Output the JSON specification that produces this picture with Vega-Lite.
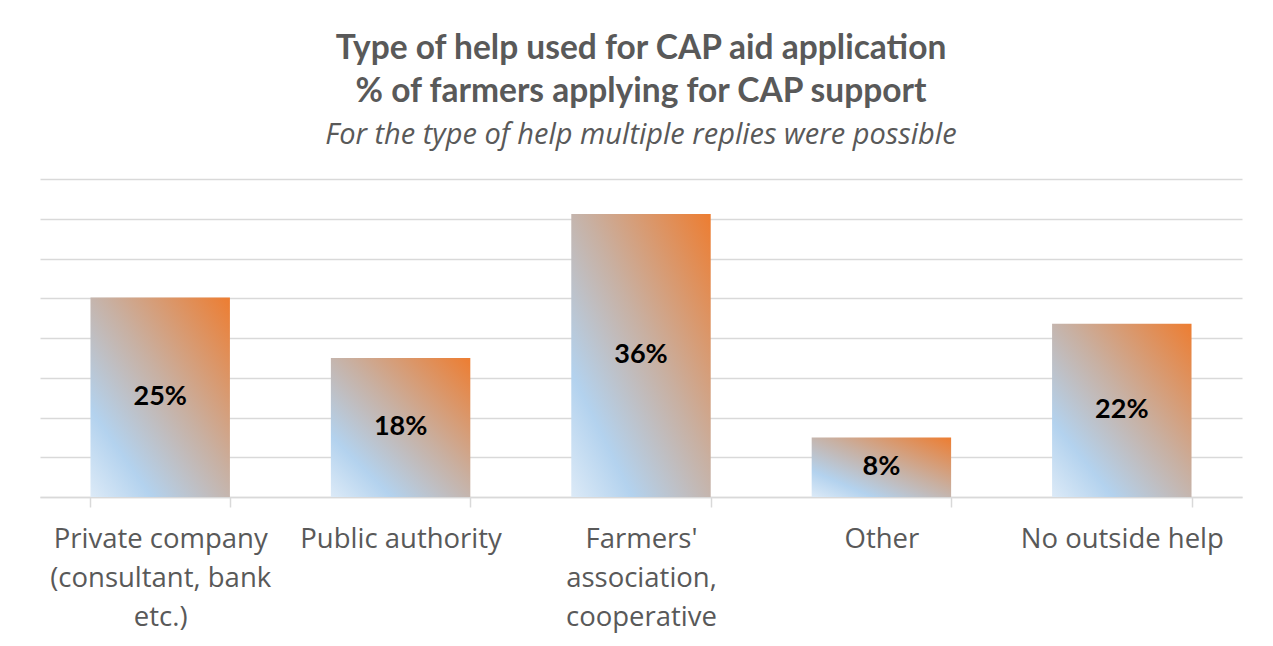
{
  "$schema": "https://vega.github.io/schema/vega-lite/v6.json",
  "width": 1202,
  "height": 318,
  "padding": {"left": 40, "right": 31, "top": 31, "bottom": 12},
  "background": "white",
  "title": {
    "text": ["Type of help used for CAP aid application", "% of farmers applying for CAP support"],
    "subtitle": "For the type of help multiple replies were possible",
    "anchor": "middle",
    "font": "Lato",
    "fontSize": 33.5,
    "fontWeight": "bold",
    "color": "#595959",
    "lineHeight": 43,
    "subtitleFont": "Open Sans",
    "subtitleFontSize": 29,
    "subtitleFontStyle": "italic",
    "subtitleColor": "#595959",
    "subtitlePadding": 12,
    "offset": 28
  },
  "data": {
    "values": [
      {"help": "Private company|(consultant, bank|etc.)", "share": 0.251},
      {"help": "Public authority", "share": 0.175},
      {"help": "Farmers'|association,|cooperative", "share": 0.356},
      {"help": "Other", "share": 0.075},
      {"help": "No outside help", "share": 0.218}
    ]
  },
  "encoding": {
    "x": {
      "field": "help",
      "type": "nominal",
      "sort": null,
      "scale": {"paddingInner": 0.42, "paddingOuter": 0.21},
      "axis": {
        "title": null,
        "labelAngle": 0,
        "labelExpr": "split(datum.label, '|')",
        "labelFont": "Open Sans",
        "labelFontSize": 27.5,
        "labelColor": "#595959",
        "labelLineHeight": 39,
        "labelPadding": 18,
        "labelLimit": 0,
        "domainColor": "#D9D9D9",
        "domainWidth": 1.5,
        "tickBand": "extent",
        "tickColor": "#D9D9D9",
        "tickWidth": 1.5,
        "tickSize": 10
      }
    }
  },
  "layer": [
    {
      "mark": {
        "type": "bar",
        "color": {
          "gradient": "linear",
          "x1": 0, "y1": 1, "x2": 1, "y2": 0,
          "stops": [
            {"offset": 0, "color": "#DCEAF7"},
            {"offset": 0.22, "color": "#B3D2EE"},
            {"offset": 0.55, "color": "#C8B0A2"},
            {"offset": 1, "color": "#ED7D31"}
          ]
        }
      },
      "encoding": {
        "y": {
          "field": "share",
          "type": "quantitative",
          "scale": {"domain": [0, 0.4]},
          "axis": {
            "title": null,
            "labels": false,
            "ticks": false,
            "domain": false,
            "grid": true,
            "values": [0, 0.05, 0.1, 0.15, 0.2, 0.25, 0.3, 0.35, 0.4],
            "gridColor": "#D9D9D9",
            "gridWidth": 1.5
          }
        }
      }
    },
    {
      "mark": {
        "type": "text",
        "font": "Lato",
        "fontSize": 27,
        "fontWeight": "bold",
        "color": "#000000",
        "baseline": "middle"
      },
      "encoding": {
        "y": {
          "field": "share",
          "type": "quantitative",
          "scale": {"domain": [0, 0.8]},
          "axis": null
        },
        "text": {"field": "share", "type": "quantitative", "format": ".0%"}
      }
    }
  ],
  "resolve": {"scale": {"y": "independent"}, "axis": {"y": "independent"}},
  "config": {
    "view": {"stroke": null}
  }
}
